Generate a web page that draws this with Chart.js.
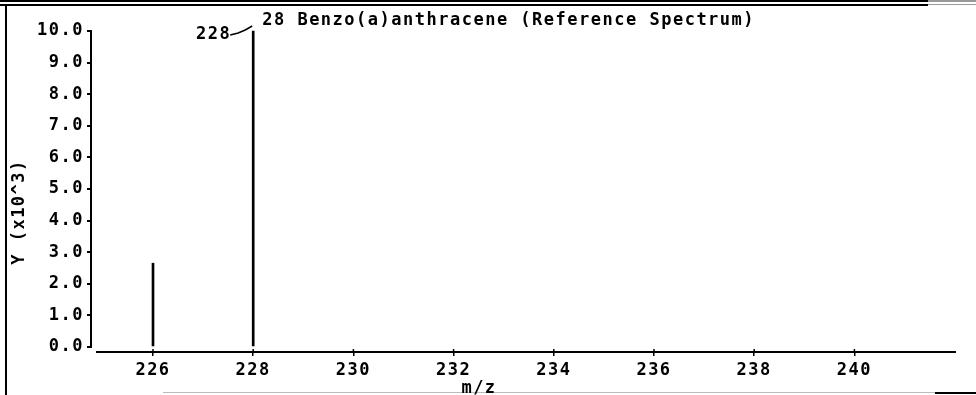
<!DOCTYPE html>
<html>
<head>
<meta charset="utf-8">
<script src="https://cdn.jsdelivr.net/npm/chart.js@4/dist/chart.umd.min.js"></script>
<style>
html,body{margin:0;padding:0;background:#fff;}
#wrap{position:relative;width:976px;height:395px;}
canvas{display:block;}
</style>
</head>
<body>
<div id="wrap"><canvas id="c" width="976" height="395"></canvas></div>
<script>
// ---- data ----
const mzValues = [226, 228];
const intensities = [2.65, 10.0];          // Y (x10^3)
const xTickValues = [226, 228, 230, 232, 234, 236, 238, 240];
const yTickValues = [0, 1, 2, 3, 4, 5, 6, 7, 8, 9, 10];
const chartTitle = '28 Benzo(a)anthracene (Reference Spectrum)';
const xAxisTitle = 'm/z';
const yAxisTitle = 'Y (x10^3)';

const FONT = '"DejaVu Sans Mono", "Liberation Mono", monospace';
const SPACING = '1.5px';
const FSIZE = 17;

const points = mzValues.map((m, i) => ({x: m, y: intensities[i]}));

const decor = {
  id: 'decor',
  beforeUpdate(chart){ chart.ctx.letterSpacing = SPACING; },
  beforeLayout(chart){ chart.ctx.letterSpacing = SPACING; },
  beforeDraw(chart){
    const ctx = chart.ctx;
    ctx.letterSpacing = SPACING;
    ctx.save();
    ctx.fillStyle = '#fff';
    ctx.fillRect(0, 0, chart.width, chart.height);
    // scan frame
    ctx.fillStyle = '#000';
    ctx.fillRect(0, 0, 928, 2);
    ctx.fillRect(0, 4, 928, 2);
    ctx.fillStyle = '#999';
    ctx.fillRect(928, 0, 48, 2);
    ctx.fillRect(928, 4, 48, 1);
    ctx.fillStyle = '#000';
    ctx.fillRect(5, 4, 2, 391);
    ctx.fillStyle = '#bbb';
    ctx.fillRect(163, 392, 772, 1);
    ctx.fillStyle = '#000';
    ctx.fillRect(935, 392, 41, 2);
    ctx.restore();
  },
  afterDraw(chart){
    const ctx = chart.ctx;
    const xs = chart.scales.x, ys = chart.scales.y;
    const area = chart.chartArea;
    ctx.save();
    ctx.letterSpacing = SPACING;
    ctx.strokeStyle = '#000';
    ctx.fillStyle = '#000';
    ctx.lineWidth = 2;
    // y axis line from 0 to 10
    const y0 = ys.getPixelForValue(yTickValues[0]);
    const y10 = ys.getPixelForValue(yTickValues[yTickValues.length - 1]);
    ctx.beginPath();
    ctx.moveTo(area.left, y0 + 1);
    ctx.lineTo(area.left, y10 - 1);
    ctx.stroke();
    // x axis line
    ctx.beginPath();
    ctx.moveTo(area.left + 5, area.bottom);
    ctx.lineTo(area.right + 1, area.bottom);
    ctx.stroke();
    // x tick stubs above axis
    ctx.lineWidth = 1.5;
    xTickValues.forEach(v => {
      const px = xs.getPixelForValue(v);
      ctx.beginPath();
      ctx.moveTo(px, area.bottom - 3);
      ctx.lineTo(px, area.bottom);
      ctx.stroke();
    });
    // base peak label + leader + title
    let bi = 0;
    intensities.forEach((v, i) => { if (v > intensities[bi]) bi = i; });
    const px = xs.getPixelForValue(mzValues[bi]);
    const py = ys.getPixelForValue(intensities[bi]);
    ctx.font = 'bold ' + FSIZE + 'px ' + FONT;
    ctx.lineWidth = 1.5;
    ctx.beginPath();
    ctx.moveTo(px - 23, py + 4);
    ctx.lineTo(px - 15, py + 2);
    ctx.lineTo(px - 8, py - 1);
    ctx.lineTo(px - 1, py - 5);
    ctx.stroke();
    ctx.textAlign = 'right';
    ctx.textBaseline = 'middle';
    ctx.fillText(String(mzValues[bi]), px - 22, py + 4);
    ctx.textAlign = 'left';
    ctx.textBaseline = 'alphabetic';
    ctx.fillText(chartTitle, px + 9, py - 6);
    // axis titles
    ctx.textAlign = 'center';
    ctx.textBaseline = 'middle';
    ctx.fillText(xAxisTitle, 479, 389);
    ctx.translate(20, 212);
    ctx.rotate(-Math.PI / 2);
    ctx.fillText(yAxisTitle, 0, 0);
    ctx.restore();
  }
};

new Chart(document.getElementById('c'), {
  type: 'bar',
  data: {
    datasets: [{
      data: points,
      backgroundColor: '#000',
      borderWidth: 0,
      barThickness: 2,
      grouped: false
    }]
  },
  options: {
    responsive: false,
    animation: false,
    devicePixelRatio: 1,
    layout: {padding: {left: 0, right: 21, top: 25, bottom: 0}},
    plugins: {legend: {display: false}, tooltip: {enabled: false}, title: {display: false}},
    scales: {
      x: {
        type: 'linear',
        min: 224.7625,
        max: 242.008,
        offset: false,
        afterBuildTicks(s){ s.ticks = xTickValues.map(v => ({value: v})); },
        afterFit(s){ s.height = 43; },
        border: {display: false},
        grid: {display: true, offset: false, drawOnChartArea: false, drawTicks: true, tickLength: 4, color: '#000', lineWidth: 1.5},
        ticks: {color: '#000', font: {family: FONT, size: FSIZE, weight: 'bold'}, padding: 4, maxRotation: 0, autoSkip: false,
          callback: v => String(v)}
      },
      y: {
        type: 'linear',
        min: -0.16,
        max: 10.19,
        afterBuildTicks(s){ s.ticks = yTickValues.map(v => ({value: v})); },
        afterFit(s){ s.width = 91; },
        border: {display: false},
        grid: {display: true, drawOnChartArea: false, drawTicks: true, tickLength: 4, color: '#000', lineWidth: 2},
        ticks: {color: '#000', font: {family: FONT, size: FSIZE, weight: 'bold'}, padding: 3, autoSkip: false,
          callback: v => Number(v).toFixed(1)}
      }
    }
  },
  plugins: [decor]
});
</script>
</body>
</html>
